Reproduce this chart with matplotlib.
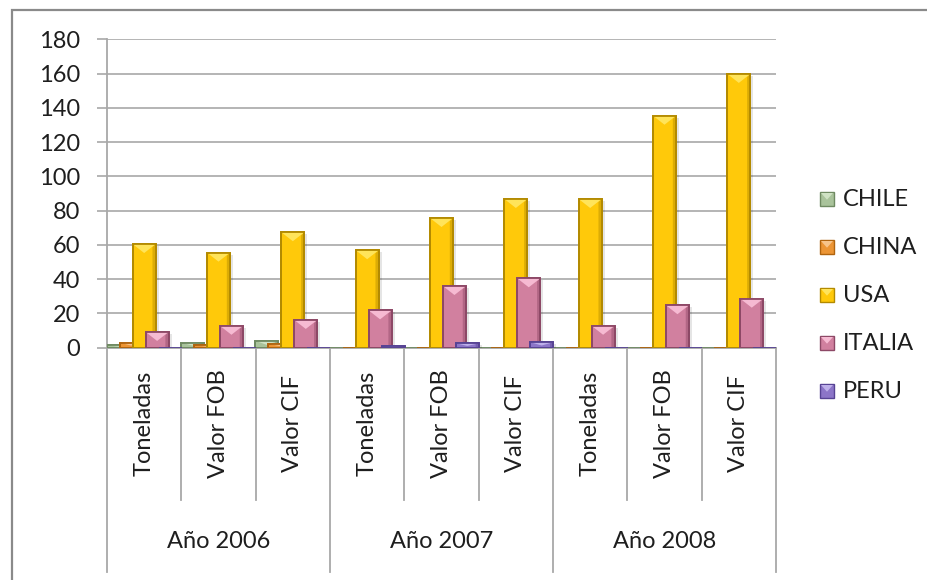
import matplotlib
matplotlib.use("Agg")
import matplotlib.pyplot as plt
from matplotlib.patches import Rectangle, Polygon
from matplotlib.transforms import blended_transform_factory, offset_copy
import numpy as np

plt.rcParams['font.family'] = ['Lato', 'DejaVu Sans']

# ---- data -------------------------------------------------------------
years = ["Año 2006", "Año 2007", "Año 2008"]
measures = ["Toneladas", "Valor FOB", "Valor CIF"]
countries = ["CHILE", "CHINA", "USA", "ITALIA", "PERU"]

chile = [1.5, 3, 4, 0, 0, 0, 0, 0, 0]
china = [3, 1.6, 2.3, 0, 0, 0, 0, 0, 0]
usa = [60.5, 55.5, 67.4, 56.9, 75.7, 86.8, 86.8, 135.4, 159.8]
italia = [9.2, 12.8, 16.2, 21.8, 36, 40.5, 12.8, 24.8, 28.6]
peru = [0, 0, 0, 0.8, 2.6, 3.2, 0, 0, 0]

y_ticks = list(range(0, 181, 20))

# ---- styling ------------------------------------------------------------
# (face, rim, highlight) for each country
palette = [
    ("#a9c39b", "#6f8a62", "#cfe2c4"),
    ("#ec9535", "#b0640f", "#f7c48a"),
    ("#ffc90a", "#b38a00", "#ffe45a"),
    ("#d1809f", "#8d4866", "#f6bad2"),
    ("#8c75c8", "#574394", "#beb0ea"),
]
TXT = "#1e1e1e"
GRID = "#a8a8a8"
FS = 17

W, H = 928, 580
fig = plt.figure(figsize=(W / 100, H / 100), dpi=100)
fig.patch.set_facecolor("white")

ax_left, ax_right = 107, 776
ax_top, ax_bot = 39.3, 347.7
ax = fig.add_axes([ax_left / W, 1 - ax_bot / H,
                   (ax_right - ax_left) / W, (ax_bot - ax_top) / H])

series = [chile, china, usa, italia, peru]
ncat = len(usa)
x = np.arange(ncat)
step = 0.174
width = 0.31
px_per_unit = (ax_bot - ax_top) / 180.0
bevel = 9 / px_per_unit          # depth of the top highlight, data units
side = 0.14 * width              # width of the darker side strip

shadow_tr = offset_copy(ax.transData, fig=fig, x=3, y=-2, units="dots")

for k, (vals, (face, rim, light)) in enumerate(zip(series, palette)):
    pos = x + (k - 2) * step
    z = 3 + k
    ax.bar(pos, vals, width, color="black", alpha=0.10, linewidth=0,
           transform=shadow_tr, zorder=z - 0.5)
    ax.bar(pos, vals, width, color=face, edgecolor=rim, linewidth=1.3,
           zorder=z)
    for p, v in zip(pos, vals):
        if v <= 0:
            continue
        d = min(bevel, 0.6 * v)
        l, r = p - width / 2, p + width / 2
        # darker right flank
        ax.add_patch(Polygon([(r, 0), (r, v), (r - side, v - d * 0.35),
                              (r - side, 0)], closed=True,
                             facecolor=rim, alpha=0.45, linewidth=0,
                             zorder=z + 0.1))
        # lighter top facet
        ax.add_patch(Polygon([(l, v), (r, v), (p, v - d)], closed=True,
                             facecolor=light, linewidth=0, zorder=z + 0.2))
        ax.add_patch(Rectangle((l, 0), width, v, facecolor="none",
                               edgecolor=rim, linewidth=1.3, zorder=z + 0.3))

ax.set_xlim(-0.5, ncat - 0.5)
ax.set_ylim(0, 180)
ax.set_yticks(y_ticks)
ax.set_yticklabels([str(t) for t in y_ticks], fontsize=FS, color=TXT)
ax.tick_params(axis="y", direction="out", length=7.2, width=1.2,
               color=GRID, pad=12)
ax.set_xticks([])
ax.grid(axis="y", color=GRID, linewidth=1.2)
ax.set_axisbelow(True)
for s in ("top", "right"):
    ax.spines[s].set_visible(False)
ax.spines["left"].set_color(GRID)
ax.spines["left"].set_linewidth(1.3)
ax.spines["bottom"].set_color(GRID)
ax.spines["bottom"].set_linewidth(1.3)

# ---- two-level category axis -----------------------------------------
bt = blended_transform_factory(ax.transData, ax.transAxes)
h_axes = ax_bot - ax_top
inner_end = -(500 - ax_bot) / h_axes
outer_end = -(572 - ax_bot) / h_axes
for b in np.arange(-0.5, ncat, 1.0):
    is_group = int(round(b + 0.5)) % 3 == 0
    ax.plot([b, b], [0, outer_end if is_group else inner_end],
            transform=bt, color=GRID, linewidth=1.3, clip_on=False)

for i in range(ncat):
    ax.text(i, inner_end / 2, measures[i % 3], rotation=90, ha="center",
            va="center", fontsize=FS, color=TXT, transform=bt)

label_y = -(541 - ax_bot) / h_axes
for g, yr in enumerate(years):
    ax.text(3 * g + 1, label_y, yr, ha="center", va="center",
            fontsize=FS, color=TXT, transform=bt)

# ---- legend ------------------------------------------------------------
leg_y = [199, 247, 295, 343, 391]
for name, (face, rim, light), yy in zip(countries, palette, leg_y):
    sx, sy, sz = 820, yy - 7, 14
    fig.patches.append(Rectangle((sx / W, 1 - (sy + sz) / H), sz / W, sz / H,
                                 transform=fig.transFigure, facecolor=face,
                                 edgecolor=rim, linewidth=1.0))
    fig.patches.append(Polygon([((sx + 1) / W, 1 - (sy + 1) / H),
                                ((sx + sz - 1) / W, 1 - (sy + 1) / H),
                                ((sx + sz / 2) / W, 1 - (sy + sz * 0.55) / H)],
                               closed=True, transform=fig.transFigure,
                               facecolor=light, linewidth=0))
    fig.text(843 / W, 1 - yy / H, name, ha="left", va="center",
             fontsize=FS, color=TXT)

# ---- chart border --------------------------------------------------------
fig.patches.append(Rectangle((12 / W, -0.05), 1.0, 1 - 9.5 / H + 0.05,
                             transform=fig.transFigure, facecolor="none",
                             edgecolor="#8a8a8a", linewidth=1.6))

fig.savefig("out.png", dpi=100)
